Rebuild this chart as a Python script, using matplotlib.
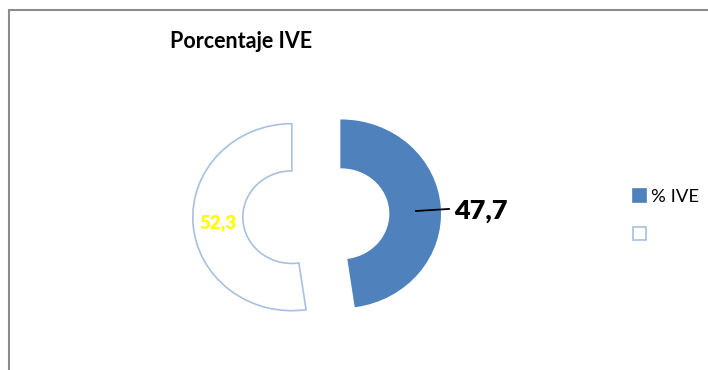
import matplotlib
matplotlib.use("Agg")
import matplotlib.pyplot as plt
from matplotlib.patches import Rectangle

plt.rcParams['font.family'] = ['Lato', 'DejaVu Sans']

# Data
categories = ['% IVE', '']
values = [47.7, 52.3]
title = 'Porcentaje IVE'

face_colors = ['#4F81BD', '#FFFFFF']
edge_colors = ['#4F81BD', '#A9C0E0']

W, H = 708, 370
fig = plt.figure(figsize=(W / 100, H / 100), dpi=100)

# Outer chart border (gray), running off the right and bottom edges
fig.patches.append(Rectangle((9 / W, -0.1), 1.2, 1 - 10 / H + 0.1,
                             transform=fig.transFigure, fill=False,
                             edgecolor='#8C8C8C', linewidth=1.5))

# Axes placed so 1 data unit = 99 px horizontally, 93.5 px vertically
rx, ry = 99.0, 93.5
cx, cy = 316.5, 215.5
xl, yl = 2.0, 1.5
ax = fig.add_axes([(cx - xl * rx) / W, (H - cy - yl * ry) / H,
                   2 * xl * rx / W, 2 * yl * ry / H])

wedges, texts, autotexts = ax.pie(
    values, startangle=90, counterclock=False, explode=[0.25, 0.25],
    colors=face_colors, radius=1.0,
    wedgeprops=dict(width=0.505, linewidth=1.2),
    autopct=lambda p: f'{p:.1f}'.replace('.', ','), pctdistance=0.75)
for w, ec in zip(wedges, edge_colors):
    w.set_edgecolor(ec)

ax.set_aspect('auto')
ax.set_xlim(-xl, xl)
ax.set_ylim(-yl, yl)
ax.axis('off')

# Inside label for the white slice
autotexts[1].set_color('#FFFF00')
autotexts[1].set_fontweight('heavy')
autotexts[1].set_fontsize(13.5)

# Outside label with leader line for the blue slice
autotexts[0].set_position((1.39, 0.05))
autotexts[0].set_ha('left')
autotexts[0].set_va('center')
autotexts[0].set_color('black')
autotexts[0].set_fontweight('heavy')
autotexts[0].set_fontsize(19.5)
ax.plot([1.005, 1.338], [0.048, 0.07], color='black', linewidth=1.3)

fig.text(241 / W, 1 - 42 / H, title, ha='center', va='center',
         fontsize=15.5, fontweight='bold')

fig.legend(handles=wedges, labels=categories, loc='upper left',
           bbox_to_anchor=(633 / W, 1 - 189 / H), frameon=False,
           fontsize=13.3, handlelength=0.7, handleheight=0.7,
           handletextpad=0.3, labelspacing=1.2, borderpad=0,
           borderaxespad=0)

fig.savefig('out.png', dpi=100)
